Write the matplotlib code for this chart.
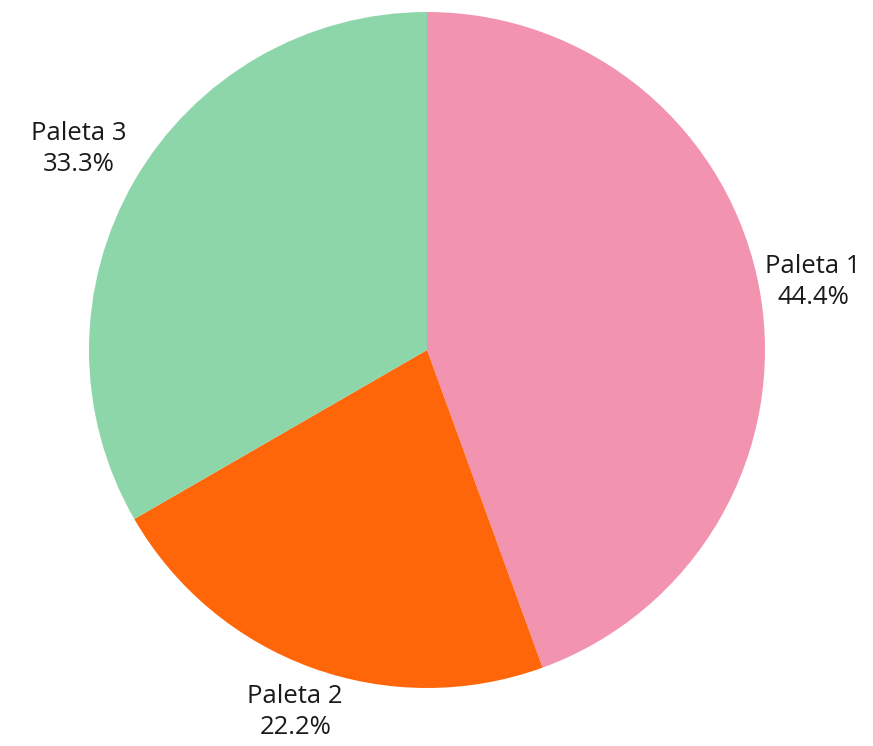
import numpy as np
import matplotlib
matplotlib.use('Agg')
import matplotlib.pyplot as plt

labels = ['Paleta 1', 'Paleta 2', 'Paleta 3']
values = [4, 2, 3]
colors = ['#F294B0', '#FF6609', '#8DD6AA']

plt.rcParams['font.family'] = ['Open Sans', 'DejaVu Sans']

fig = plt.figure(figsize=(8.73, 7.46), dpi=100)
ax = fig.add_axes([0, 0, 1, 1])

# pixel-based coordinates: pie centre at (427, 350) from top-left, radius 338
radius = 338

wedges, _ = ax.pie(values, colors=colors, startangle=90, counterclock=False,
                   radius=radius, wedgeprops=dict(linewidth=0))
ax.set_xlim(-427, 873 - 427)
ax.set_ylim(-(746 - 350), 350)
ax.set_aspect('auto')
ax.axis('off')

total = sum(values)
label_dist = [1.16, 1.14, 1.19]
for w, lab, v, d in zip(wedges, labels, values, label_dist):
    mid = np.deg2rad((w.theta1 + w.theta2) / 2)
    x = radius * d * np.cos(mid)
    y = radius * d * np.sin(mid)
    ax.text(x, y, f'{lab}\n{v / total * 100:.1f}%', ha='center', va='center',
            fontsize=18.5, color='#1a1a1a', linespacing=1.3)

fig.savefig('out.png', dpi=100)
